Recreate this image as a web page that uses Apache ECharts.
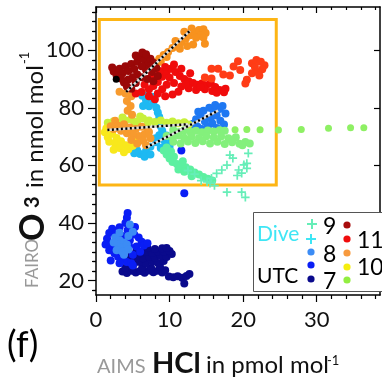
<!DOCTYPE html>
<html><head><meta charset="utf-8">
<script src="https://cdn.jsdelivr.net/npm/echarts@6/dist/echarts.min.js"></script>
<style>html,body{margin:0;padding:0;background:#fff}#c{width:382px;height:383px}</style>
</head><body><div id="c"></div>
<script>
const FONT = 'Lato';
// axis ticks
const xMajorTicks = [0, 10, 20, 30];
const xMinorTicks = [2,4,6,8,12,14,16,18,22,24,26,28,32,34,36,38];
const yMajorTicks = [20, 40, 60, 80, 100];
const yMinorTicks = [16.667,23.333,26.667,30,33.333,36.667,43.333,46.667,50,53.333,56.667,63.333,66.667,70,73.333,76.667,83.333,86.667,90,93.333,96.667,103.333,106.667,110,113.333];
const xRange = [0, 38.6];
const yRange = [15, 115];

// data groups: [HCl, O3]
const navyPts = [[3.6,23.2],[4.2,22.6],[4.8,23.4],[5.4,22.8],[6,23.3],[6.6,22.7],[7.2,23.5],[7.8,22.9],[8.4,23.4],[9,22.8],[9.4,23.6],
 [4,24.5],[5,24.2],[6.3,24.6],[7.5,24.3],[8.7,24.8],[9.9,21.4],[10.5,21.2],[11.1,21.5],[11.7,21],[12.3,21.6],[12.7,22.3],[12,19],
 [5.2,26],[6,26.5],[6.8,26],[7.6,26.6],[8.4,26.1],[9.2,26.8],[4.6,27.5],[5.6,28],[6.4,27.8],[7.2,28.3],[8,27.9],[8.8,28.5],[9.6,28.2],
 [10.3,29.2],[6,29.5],[6.8,30],[7.6,29.6],[8.4,30.2],[9.2,30],[10,30.3],[7,31.3],[8,31],[9,31.2],[9.6,31.3],[5.5,30.5],[4.8,29]];
const bluePts = [[4.3,43.5],[4.2,41.8],[4,40],[3.2,38.5],[2.2,38],[1.8,36.5],[2.6,36],[1.5,34.5],[1.6,33],[2.2,32],[1.8,30.5],[2.5,29.5],
 [3,28.3],[3.6,27.2],[4.2,26.5],[4.8,26],[5,25.2],[3.4,31],[4.6,34],[5.2,36],[5.8,35],[6.2,33.5],[5.5,31.8],[6.5,32.2],[7,33],[6,30],
 [5,29],[4.3,37.5],[3.6,35.5],[2.8,34],[1.3,32.5],[2,27],[3.2,26],[4.5,32],[5.3,38.6],[12,50.3],[11.6,65.2]];
const lightBluePts = [[2.6,35],[3.2,34],[3,32.5],[3.8,33.2],[3.5,31.5],[4.2,32.5],[2.8,30.5],[3.6,30],[4.4,30.8],[4.4,35.5],[4.6,39.5],
 [5,37],[3.2,36.6],[2.4,33.2],[3.8,29]];
const skyPts = [[6.3,84.2],[7,84.4],[7.6,83.8],[6.8,82.5],[7.8,82],[6.4,80.6],[7.2,80.5],[8.2,80],[8.4,78.4],[8.6,76.8],[8.4,75.2],
 [8.8,73.6],[9,72],[8.6,70.5],[9.2,69],[8.2,68],[9.4,67.3],[10,66.5],[8.8,66],[7.4,66.5],[6.8,65],[6,64],[6.6,63],[5.6,65.2],[7.4,63.8],
 [5.2,64.2],[9.6,70.4],[10.2,68.6],[8.1,69.4]];
const dodgerPts = [[13.2,74.5],[13.8,73.4],[14.4,72.6],[13.6,76],[14.2,77.2],[14.8,75.2],[15.2,73.5],[15.6,76.5],[14.6,79],[15.4,80],
 [16,78.8],[16.4,77.3],[16.9,75.5],[16.8,79.6],[17.2,80.6],[16.2,81],[15.8,74.6],[17.4,74.2],[16.4,73],[12.6,73.2],[13.9,78.6],[17.6,78]];
const aquaPts = [[9.2,65.2],[9.6,63.8],[10,62.4],[10.4,61.2],[11,60.5],[11.6,60],[12.2,59.4],[12.8,58.6],[11.2,58.6],[12,57.8],[13.4,57.5],
 [14,56.8],[14.6,56],[15.2,55.4],[15.8,54.8],[13,56.2],[10.6,63],[11.8,61.4],[9.6,66.2],[10.2,64.8]];
const greenPts = [[10.5,72.3],[11.3,71.6],[12,72.2],[12.8,71.7],[13.6,72],[14.4,71.5],[15.2,72.1],[16,71.8],[16.8,72.2],[17.5,72],
 [9.6,70.2],[10.4,69.8],[11.2,70.4],[12,69.6],[13,70],[14,69.5],[15,70.1],[16,69.7],[17,70],[18,69.4],[19,69.8],
 [10.5,68.2],[11.5,67.6],[12.5,68.3],[13.5,67.8],[14.5,68.4],[15.5,67.6],[16.5,68.2],[17.5,67.4],[18.5,68],[19.5,67.5],[20.3,68.1],[20.9,67.6],[19.9,67]];
const greenSparsePts = [[18.9,72.4],[20.5,72.5],[22.3,72.4],[24.8,72.3],[27.9,72.5],[31.6,72.9],[34.6,73.1],[36.4,73.1]];
const divePts = [[14.3,54.7],[15.1,54.3],[15.7,55.5],[16.4,57.2],[17.1,58.4],[17.8,60.1],[18.2,63.6],[18.6,62.5],[20.7,64.2],[17.8,50.7],
 [19.4,58.4],[19.8,57.3],[20.5,59],[20.1,60.2],[20.5,60.7],[19.8,50.7],[20.3,48.9],[16.1,53],[13.4,57],[12.5,58.2],[19.2,56.5],[15.5,53.8]];
const yellowGreenPts = [[1.6,74.8],[2.4,75.3],[3.2,74.6],[4,75.6],[4.8,76],[5.6,75.2],[6.4,76.3],[7.2,75.6],[8,75.1],[8.8,75.6],[9.6,74.8],
 [10.4,75.2],[11.2,74.6],[12,75],[12.6,74.2],[5.2,74],[7,74.2],[3.6,76.6],[6,77]];
const yellowPts = [[1.2,71.5],[1.6,69.8],[2.2,71],[2.8,69.5],[1.8,68.2],[2.6,67.6],[3.4,68.4],[4,67],[3.2,66],[4.4,65.6],[5,66.8],[3.8,64.6],
 [2.4,65.4],[1.4,72.8],[5.4,68.2]];
const orangeLowPts = [[4.4,86.6],[4,85],[4.8,84],[4.2,82.4],[4.7,80.6],[4.3,79],[4.9,77.6],[3.2,85.6],[2.6,75.5],[3,73.8],[3.8,74.3],[4.6,73.2],
 [5.4,72.6],[6.2,73.4],[7,72.4],[6.6,70.8],[5.8,70.2],[5,70.8],[4.2,71.2],[3.4,72],[2.4,72.6],[7.4,69.4],[6.4,68.6],[5.6,67.6],[4.8,68.8],
 [6.8,67],[7.2,71.6],[2,73.6]];
const orangeHighPts = [[7.4,94.6],[8,95.8],[8.6,97],[9.2,98.3],[9.8,99.4],[10.4,100.8],[11,101.8],[11.6,102.8],[12.2,104],[12.8,105.2],
 [13.4,106.2],[14,107],[14.6,107.3],[14.9,106],[14.2,105],[13.6,104.3],[14.6,104.4],[14.8,102.2],[13.2,102],[12.4,101.5],[11.4,100.5],
 [10.8,103.2],[12,106.4],[13,107.5],[8.8,96],[9.6,97.6]];
const redPts = [[6.6,88],[7.2,86.4],[7.8,87.6],[8.4,89],[9,90.8],[9.6,92.4],[10.2,93.6],[10.8,92.4],[11.4,91],[12,90],[12.6,89.2],[13.2,88.6],
 [13.8,88],[14.4,88.4],[15,87.8],[15.6,88.6],[16.2,87.2],[16.8,86.2],[17.4,85.4],[15.8,85.8],[14.8,86.4],[13.6,86.2],[12.6,86.8],[11.6,87.4],
 [10.6,88.6],[9.6,88],[9,86.4],[8.4,85],[9.4,84],[10.4,84.6],[11.2,85.6],[8,83],[7.2,84],[6.2,85.5],[5.4,85],[8.6,92.8],[9.4,94.2],
 [10.6,95],[11.6,93.6],[12.8,92],[7.6,91],[16.4,85.2],[17.6,86.6],[14.2,87.2],[12.2,88.2],[10,90.4],[8.2,89.6]];
const orangeRedPts = [[15.7,93.6],[16.6,93.6],[15.7,90.2],[17.3,91.6],[18.2,91.2],[18.7,94.3],[19.3,96.2],[19.6,93.1],[20.5,89.7],[20.3,88.4],
 [21.2,92],[21.2,95.5],[21.8,96.6],[22.4,96],[22.9,94.8],[22.6,93.4],[22,92.4],[21.6,94.2],[22.2,91.2],[14.8,90.5]];
const darkRedPts = [[2.4,92.6],[2.8,91.2],[3.2,93.6],[3.6,92],[4,94.4],[4.4,92.8],[4.8,95.2],[5.2,93.5],[5.6,96],[6,97.8],[6.3,99.2],[6.6,96.6],
 [7,95],[7.4,97],[7.8,95.6],[8.2,93.8],[7.6,92.4],[6.8,93.2],[6.2,94.4],[5.6,91.6],[5,90.6],[4.4,89.8],[3.8,88.8],[3.4,90.2],[4.2,87.4],
 [4.8,86.6],[5.4,88.6],[6.2,90.6],[7,90],[7.8,89.2],[8.4,91],[2.2,94],[5.4,98.2],[6.8,98.6]];
const blackPts = [[2.75,89.9]];
const fitLine1 = [[4.1,85.5],[12.75,106.7]];
const fitLine2 = [[1.55,72.3],[12.5,74.3]];
const fitLine3 = [[6.8,66.2],[16.6,79]];
const boxCorners = [[0.45,53.2],[24.5,110.7]];

const legendLeftLabels = ['9','8','7'];
const legendRightLabels = ['11','10'];

const PLUS = 'path://M4,0H6V4H10V6H6V10H4V6H0V4H4Z';
function sc(data, color, size, symbol) {
  return {type:'scatter', data, symbol: symbol || 'circle', symbolSize: size || 8,
    itemStyle:{color, opacity:1}, silent:true, animation:false};
}
function fit(data) {
  return [
    {type:'line', data, symbol:'none', lineStyle:{color:'#ddd', width:2.5}, z:5, animation:false, silent:true},
    {type:'line', data, symbol:'none', lineStyle:{color:'#000', width:2.5, type:[2,2.5]}, z:6, animation:false, silent:true}
  ];
}
const series = [
  sc(navyPts, '#0A0A8C'),
  sc(bluePts, '#0A1EF5'),
  sc(lightBluePts, '#3C8CF5'),
  sc(skyPts, '#1EB9F2'),
  sc(dodgerPts, '#1E78F2'),
  sc(aquaPts, '#5CF0A0'),
  sc(greenPts, '#84F07C'),
  sc(greenSparsePts, '#8EF064', 7),
  sc(divePts, '#66EEB8', 8.5, PLUS),
  sc(yellowGreenPts, '#C8F03C'),
  sc(yellowPts, '#F8E81C'),
  sc(orangeLowPts, '#F79A2E'),
  sc(orangeHighPts, '#F7921E'),
  sc(redPts, '#F00C0C'),
  sc(orangeRedPts, '#FF3C16'),
  sc(darkRedPts, '#9A0808'),
  sc(blackPts, '#000', 7),
  ...fit(fitLine1), ...fit(fitLine2), ...fit(fitLine3)
];
series[0].markArea = {silent:true, itemStyle:{color:'rgba(0,0,0,0)', borderColor:'#FDB515', borderWidth:3},
  data:[[{coord: boxCorners[0]}, {coord: boxCorners[1]}]]};

const axisLine = {show:true, onZero:false, lineStyle:{color:'#000', width:1.5}};
const tickStyle = {color:'#000', width:1.2};
function xAx(pos, ticks, len, inside, labels, line) {
  return {type:'value', min:xRange[0], max:xRange[1], position:pos,
    axisLine: line ? axisLine : {show:false},
    axisTick:{show:true, customValues:ticks, length:len, inside, lineStyle:tickStyle},
    axisLabel: labels ? {show:true, customValues:ticks, fontSize:22, color:'#111', margin:14, fontFamily:FONT} : {show:false},
    splitLine:{show:false}};
}
function yAx(pos, ticks, len, inside, labels, line) {
  return {type:'value', min:yRange[0], max:yRange[1], position:pos,
    axisLine: line ? axisLine : {show:false},
    axisTick:{show:true, customValues:ticks, length:len, inside, lineStyle:tickStyle},
    axisLabel: labels ? {show:true, customValues:ticks, fontSize:22, color:'#111', margin:12, fontFamily:FONT} : {show:false},
    splitLine:{show:false}};
}

function txt(text, x, baseline, fs, color, weight) {
  return {type:'text', x, y: baseline + 0.22*fs, z:100,
    style:{text, fontSize:fs, fontFamily:FONT, fill:color, fontWeight:weight||'normal', align:'left', verticalAlign:'bottom'}};
}
function rtxt(text, baselineX, startY, fs, color, weight) {
  return {type:'text', x: baselineX + 0.22*fs, y: startY, rotation: Math.PI/2, z:100,
    style:{text, fontSize:fs, fontFamily:FONT, fill:color, fontWeight:weight||'normal', align:'left', verticalAlign:'bottom'}};
}
function dot(cx, cy, color) { return {type:'circle', shape:{cx, cy, r:3.6}, style:{fill:color}, z:101}; }
function plus(cx, cy, color) {
  return {type:'group', z:101, children:[
    {type:'rect', shape:{x:cx-5, y:cy-1, width:10, height:2}, style:{fill:color}, z:101},
    {type:'rect', shape:{x:cx-1, y:cy-5, width:2, height:10}, style:{fill:color}, z:101}]};
}

const graphic = [
  // legend box
  {type:'rect', shape:{x:253.5, y:212.5, width:140, height:79}, style:{fill:'#fff', stroke:'#555', lineWidth:1}, z:99},
  txt('Dive', 257, 240, 21, '#3EE6F5'),
  txt('UTC', 257, 282, 21, '#000'),
  plus(312, 224, '#66EEB8'), plus(311, 239, '#3EE6F5'),
  dot(311, 252, '#3C8CF5'), dot(311, 265, '#0A1EF5'), dot(311, 279, '#0A0A8C'),
  dot(347, 225, '#A80C0C'), dot(347, 239, '#F00C0C'), dot(347, 253, '#F79A3E'), dot(347, 267, '#F5EE10'), dot(347, 280, '#92EE40'),
  txt(legendLeftLabels[0], 323, 233, 23, '#000'),
  txt(legendLeftLabels[1], 323, 261, 23, '#000'),
  txt(legendLeftLabels[2], 323, 288, 23, '#000'),
  txt(legendRightLabels[0], 357, 247, 23, '#000'),
  txt(legendRightLabels[1], 357, 274, 23, '#000'),
  // panel label
  txt('(f)', 7, 355, 36, '#000'),
  // x title
  txt('AIMS', 97, 372, 20, '#999'),
  txt('HCl', 152, 372, 29, '#111', 'bold'),
  txt('in pmol mol', 206, 372, 24, '#111'),
  txt('-1', 327, 364, 13, '#111'),
  // y title (rotated)
  rtxt('FAIRO', 37, 288, 17, '#999'),
  rtxt('O', 43, 241, 34, '#111', 'bold'),
  rtxt('3', 38, 208, 20, '#111', 'bold'),
  rtxt('in nmol mol', 42, 188, 24, '#111'),
  rtxt('-1', 28, 64, 13, '#111')
];

const chart = echarts.init(document.getElementById('c'), null, {renderer:'canvas'});
chart.setOption({
  animation:false,
  backgroundColor:'#fff',
  grid:{left:96, right:2, top:7, bottom:88, containLabel:false},
  xAxis:[
    xAx('bottom', xMajorTicks, 7, false, true, true),
    xAx('bottom', xMinorTicks, 4, false, false, false),
    xAx('top', xMajorTicks, 6, true, false, true),
    xAx('top', xMinorTicks, 3, true, false, false)
  ],
  yAxis:[
    yAx('left', yMajorTicks, 8, false, true, true),
    yAx('left', yMinorTicks, 4, false, false, false),
    yAx('right', yMajorTicks, 6, true, false, true),
    yAx('right', yMinorTicks, 3, true, false, false)
  ],
  series,
  graphic
});
</script></body></html>
